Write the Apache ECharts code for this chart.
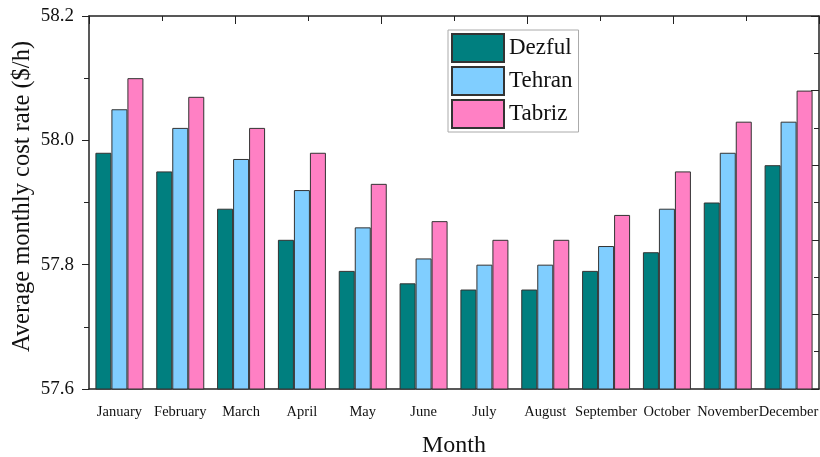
<!DOCTYPE html>
<html>
<head>
<meta charset="utf-8">
<script src="https://cdn.jsdelivr.net/npm/echarts@6/dist/echarts.min.js"></script>
<style>
  html, body { margin: 0; padding: 0; background: #fff; }
  #main { width: 820px; height: 457px; }
</style>
</head>
<body>
<div id="main"></div>
<script>
// values
var months = ['January', 'February', 'March', 'April', 'May', 'June', 'July',
  'August', 'September', 'October', 'November', 'December'];
var dezful = [57.98, 57.95, 57.89, 57.84, 57.79, 57.77, 57.76, 57.76, 57.79, 57.82, 57.90, 57.96];
var tehran = [58.05, 58.02, 57.97, 57.92, 57.86, 57.81, 57.80, 57.80, 57.83, 57.89, 57.98, 58.03];
var tabriz = [58.10, 58.07, 58.02, 57.98, 57.93, 57.87, 57.84, 57.84, 57.88, 57.95, 58.03, 58.08];

var serif = 'Liberation Serif';
var ink = '#222';

var myChart = echarts.init(document.getElementById('main'));

function bar(name, data, color) {
  return {
    name: name,
    type: 'bar',
    data: data,
    barWidth: 16,
    barGap: '0%',
    itemStyle: { color: color, borderColor: '#333', borderWidth: 1 }
  };
}

// frame axes on top / right only carry ticks
function frameAxis(pos) {
  return {
    type: 'value',
    position: pos,
    min: 0,
    max: 10,
    interval: 2,
    axisLine: { show: true, lineStyle: { color: ink, width: 1.5 } },
    axisTick: { show: true, inside: true, length: 8, lineStyle: { color: ink } },
    minorTick: { show: true, splitNumber: 2, length: 5, lineStyle: { color: ink } },
    axisLabel: { show: false },
    splitLine: { show: false }
  };
}

myChart.setOption({
  animation: false,
  grid: { left: 89, right: 1, top: 16, bottom: 68, outerBoundsMode: 'none' },
  legend: {
    orient: 'vertical',
    left: 448,
    top: 30,
    icon: 'rect',
    itemWidth: 52,
    itemHeight: 28,
    itemGap: 3,
    padding: [3, 6, 3, 3],
    borderColor: '#aaa',
    borderWidth: 1,
    backgroundColor: '#fff',
    textStyle: { fontFamily: serif, fontSize: 23, color: '#111' },
    data: ['Dezful', 'Tehran', 'Tabriz']
  },
  xAxis: [
    {
      type: 'category',
      position: 'bottom',
      data: months,
      name: 'Month',
      nameLocation: 'middle',
      nameGap: 45,
      nameMoveOverlap: false,
      nameTextStyle: { fontFamily: serif, fontSize: 24, color: '#111' },
      axisLine: { lineStyle: { color: ink, width: 1.5 } },
      axisTick: { alignWithLabel: true, length: 8, lineStyle: { color: ink } },
      axisLabel: { interval: 0, margin: 16, fontFamily: serif, fontSize: 14.5, color: '#111' }
    },
    {
      type: 'category',
      position: 'bottom',
      data: months,
      axisLine: { show: false },
      axisTick: { length: 5, lineStyle: { color: ink } },
      axisLabel: { show: false }
    },
    frameAxis('top')
  ],
  yAxis: [
    {
      type: 'value',
      position: 'left',
      min: 57.6,
      max: 58.2,
      interval: 0.2,
      name: 'Average monthly cost rate ($/h)',
      nameLocation: 'middle',
      nameGap: 54,
      nameMoveOverlap: false,
      nameTextStyle: { fontFamily: serif, fontSize: 24.5, color: '#111', padding: [0, 0, 0, 12] },
      axisLine: { show: true, lineStyle: { color: ink, width: 1.5 } },
      axisTick: { show: true, length: 7, lineStyle: { color: ink } },
      minorTick: { show: true, splitNumber: 2, length: 5, lineStyle: { color: ink } },
      axisLabel: {
        margin: 15, fontFamily: serif, fontSize: 19, color: '#111',
        formatter: function (v) { return v.toFixed(1); }
      },
      splitLine: { show: false }
    },
    frameAxis('right')
  ],
  series: [
    bar('Dezful', dezful, '#007f7f'),
    bar('Tehran', tehran, '#80ceff'),
    bar('Tabriz', tabriz, '#ff80c4')
  ]
});
</script>
</body>
</html>
